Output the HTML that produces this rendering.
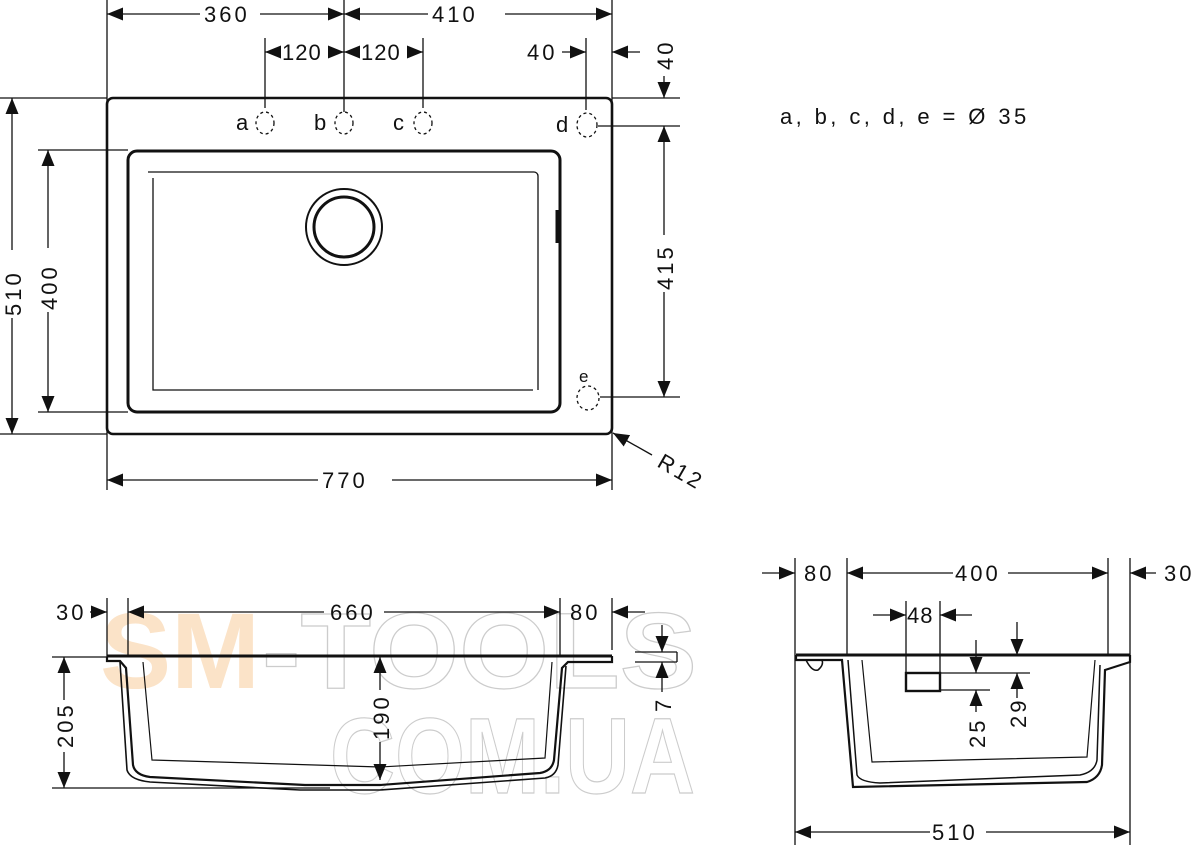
<!DOCTYPE html>
<html><head><meta charset="utf-8"><style>
html,body{margin:0;padding:0;background:#fff}
svg{display:block}
text{font-family:"Liberation Sans",sans-serif;font-size:22px;fill:#111;letter-spacing:3px}
</style></head><body>
<svg width="1200" height="847" viewBox="0 0 1200 847" xmlns="http://www.w3.org/2000/svg">
<defs>
<marker id="a" viewBox="0 0 16 13" refX="16" refY="6.5" markerWidth="16" markerHeight="13" markerUnits="userSpaceOnUse" orient="auto-start-reverse"><path d="M0,0 L16,6.5 L0,13z" fill="#111"/></marker>
</defs>
<text x="100" y="688" textLength="160" lengthAdjust="spacingAndGlyphs" style="font-size:108px;font-weight:bold;letter-spacing:0;fill:#fbe3c8">SM</text>
<text x="262" y="688" textLength="435" lengthAdjust="spacingAndGlyphs" style="font-size:108px;font-weight:bold;letter-spacing:0;fill:none;stroke:#ccc;stroke-width:1.2">-TOOLS</text>
<text x="330" y="793" textLength="365" lengthAdjust="spacingAndGlyphs" style="font-size:108px;font-weight:bold;letter-spacing:0;fill:none;stroke:#ccc;stroke-width:1.2">COM.UA</text>
<g stroke="#111" fill="none" stroke-width="1.3">
<line x1="107" y1="0" x2="107" y2="490"/>
<line x1="344" y1="0" x2="344" y2="112"/>
<line x1="612" y1="0" x2="612" y2="490"/>
<line x1="265" y1="38" x2="265" y2="108"/>
<line x1="423" y1="38" x2="423" y2="108"/>
<line x1="586" y1="38" x2="586" y2="110"/>
<line x1="0" y1="98" x2="107" y2="98"/>
<line x1="0" y1="434" x2="107" y2="434"/>
<line x1="38" y1="150" x2="128" y2="150"/>
<line x1="38" y1="412" x2="128" y2="412"/>
<line x1="612" y1="98" x2="680" y2="98"/>
<line x1="598" y1="126" x2="680" y2="126"/>
<line x1="600" y1="397" x2="680" y2="397"/>
<line x1="107" y1="14" x2="200" y2="14" marker-start="url(#a)"/><line x1="260" y1="14" x2="344" y2="14" marker-end="url(#a)"/>
<line x1="344" y1="14" x2="428" y2="14" marker-start="url(#a)"/><line x1="505" y1="14" x2="612" y2="14" marker-end="url(#a)"/>
<line x1="265" y1="52" x2="281" y2="52" marker-start="url(#a)"/>
<line x1="328" y1="52" x2="344" y2="52" marker-end="url(#a)"/>
<line x1="344" y1="52" x2="360" y2="52" marker-start="url(#a)"/>
<line x1="407" y1="52" x2="423" y2="52" marker-end="url(#a)"/>
<line x1="562" y1="52" x2="586" y2="52" marker-end="url(#a)"/>
<line x1="640" y1="52" x2="612" y2="52" marker-end="url(#a)"/>
<line x1="664" y1="76" x2="664" y2="98" marker-end="url(#a)"/>
<line x1="664" y1="126" x2="664" y2="235" marker-start="url(#a)"/><line x1="664" y1="292" x2="664" y2="397" marker-end="url(#a)"/>
<line x1="12" y1="98" x2="12" y2="250" marker-start="url(#a)"/><line x1="12" y1="318" x2="12" y2="434" marker-end="url(#a)"/>
<line x1="48" y1="150" x2="48" y2="248" marker-start="url(#a)"/><line x1="48" y1="312" x2="48" y2="412" marker-end="url(#a)"/>
<line x1="107" y1="480" x2="318" y2="480" marker-start="url(#a)"/><line x1="392" y1="480" x2="612" y2="480" marker-end="url(#a)"/>
<line x1="652" y1="455" x2="613" y2="433" marker-end="url(#a)"/>
</g>
<g fill="none" stroke="#111">
<rect x="107" y="98" width="505" height="336" rx="6" stroke-width="2.6"/>
<rect x="128" y="151" width="432" height="261" rx="9" stroke-width="3"/>
<path d="M148,172 H534 a4,4 0 0 1 4,4 V390 M533,390 H153 V178" stroke-width="1.3"/>
<line x1="557" y1="210" x2="557" y2="243" stroke-width="3"/>
<circle cx="344" cy="227" r="38" stroke-width="2"/>
<circle cx="344" cy="227" r="30" stroke-width="3"/>
<g stroke-width="1.3" stroke-dasharray="3,3">
<ellipse cx="265" cy="123" rx="9" ry="11"/><ellipse cx="344" cy="123" rx="9" ry="11"/>
<ellipse cx="423" cy="123" rx="9" ry="11"/><ellipse cx="587" cy="125" rx="10" ry="12"/>
<ellipse cx="588" cy="398" rx="11" ry="12"/>
</g>
</g>
<g>
<text x="204" y="22">360</text><text x="432" y="22">410</text>
<text x="282" y="60" style="letter-spacing:1px">120</text><text x="361" y="60" style="letter-spacing:1px">120</text>
<text x="527" y="60">40</text>
<text x="236" y="130">a</text><text x="314" y="130">b</text><text x="393" y="130">c</text><text x="556" y="132">d</text>
<text x="579" y="382" style="font-size:17px">e</text>
<text x="322" y="488">770</text>
<text x="780" y="124" style="letter-spacing:3.4px">a, b, c, d, e = Ø 35</text>
<text transform="translate(673,70) rotate(-90)">40</text>
<text transform="translate(673,290) rotate(-90)">415</text>
<text transform="translate(21,316) rotate(-90)">510</text>
<text transform="translate(57,310) rotate(-90)">400</text>
<text transform="translate(656,466) rotate(30)">R12</text>
</g>
<g stroke="#111" fill="none" stroke-width="1.3">
<line x1="107" y1="598" x2="107" y2="657"/><line x1="128" y1="598" x2="128" y2="657"/>
<line x1="560" y1="598" x2="560" y2="657"/><line x1="612" y1="598" x2="612" y2="650"/>
<line x1="90" y1="612" x2="107" y2="612" marker-end="url(#a)"/>
<line x1="128" y1="612" x2="324" y2="612" marker-start="url(#a)"/><line x1="384" y1="612" x2="560" y2="612" marker-end="url(#a)"/>
<line x1="645" y1="612" x2="612" y2="612" marker-end="url(#a)"/>
<line x1="52" y1="657" x2="107" y2="657"/>
<line x1="52" y1="788" x2="330" y2="788"/>
<line x1="64" y1="657" x2="64" y2="700" marker-start="url(#a)"/><line x1="64" y1="752" x2="64" y2="788" marker-end="url(#a)"/>
<line x1="380" y1="657" x2="380" y2="690" marker-start="url(#a)"/><line x1="380" y1="742" x2="380" y2="780" marker-end="url(#a)"/>
<line x1="662" y1="625" x2="662" y2="652" marker-end="url(#a)"/>
<line x1="662" y1="692" x2="662" y2="662" marker-end="url(#a)"/>
<line x1="635" y1="652" x2="677" y2="652"/><line x1="635" y1="662" x2="677" y2="662"/><line x1="677" y1="652" x2="677" y2="662"/>
</g>
<g fill="none" stroke="#111">
<line x1="107" y1="656" x2="612" y2="656" stroke-width="3"/>
<path d="M107,657 L107,661 L120,661 L126,668 L133,765 Q135,775 150,777 L305,785 L380,785 L540,773 Q552,771 554,760 L562,668 L568,662 L612,662 L612,656" stroke-width="2.2"/>
<path d="M120,662 L127,770 Q130,780 150,782 L300,790 L380,790 L545,778 Q556,776 558,765 L566,666" stroke-width="1.6"/>
<path d="M143,662 L152,760 L380,767 L545,758 L552,662" stroke-width="1.2"/>
</g>
<g>
<text x="56" y="620">30</text><text x="330" y="620">660</text><text x="570" y="620">80</text>
<text transform="translate(73,748) rotate(-90)">205</text>
<text transform="translate(389,740) rotate(-90)">190</text>
<text transform="translate(671,712) rotate(-90)">7</text>
</g>
<g stroke="#111" fill="none" stroke-width="1.3">
<line x1="795" y1="558" x2="795" y2="845"/><line x1="847" y1="558" x2="847" y2="655"/>
<line x1="1108" y1="558" x2="1108" y2="655"/><line x1="1130" y1="558" x2="1130" y2="845"/>
<line x1="762" y1="573" x2="795" y2="573" marker-end="url(#a)"/>
<line x1="847" y1="573" x2="953" y2="573" marker-start="url(#a)"/><line x1="1008" y1="573" x2="1108" y2="573" marker-end="url(#a)"/>
<line x1="1156" y1="573" x2="1130" y2="573" marker-end="url(#a)"/>
<line x1="795" y1="832" x2="930" y2="832" marker-start="url(#a)"/><line x1="986" y1="832" x2="1130" y2="832" marker-end="url(#a)"/>
<line x1="906" y1="601" x2="906" y2="673"/><line x1="940" y1="601" x2="940" y2="673"/>
<line x1="873" y1="615" x2="906" y2="615" marker-end="url(#a)"/>
<line x1="972" y1="615" x2="940" y2="615" marker-end="url(#a)"/>
<line x1="940" y1="673" x2="1030" y2="673"/><line x1="940" y1="690" x2="990" y2="690"/>
<line x1="976" y1="640" x2="976" y2="673" marker-end="url(#a)"/>
<line x1="976" y1="712" x2="976" y2="690" marker-end="url(#a)"/>
<line x1="1017" y1="622" x2="1017" y2="655" marker-end="url(#a)"/>
<line x1="1017" y1="698" x2="1017" y2="673" marker-end="url(#a)"/>
</g>
<g fill="none" stroke="#111">
<line x1="796" y1="655" x2="1130" y2="655" stroke-width="3"/>
<path d="M796,655 L796,660 L842,660 L853,787 L1087,782 Q1100,778 1102,765 L1105,670 L1130,662 L1130,655" stroke-width="2.2"/>
<path d="M848,660 L857,775 Q860,782 880,783 L1080,775 Q1095,772 1097,760 L1100,665" stroke-width="1.5"/>
<path d="M862,660 L872,762 L1087,757 L1095,660" stroke-width="1.2"/>
<path d="M806,660 Q812,672 818,670 Q824,665 822,660" stroke-width="1.5"/>
<rect x="906" y="673" width="34" height="18" stroke-width="2.4"/>
</g>
<g>
<text x="804" y="581">80</text><text x="955" y="581">400</text><text x="1164" y="581">30</text>
<text x="907" y="623" style="letter-spacing:1px">48</text>
<text x="932" y="840">510</text>
<text transform="translate(985,748) rotate(-90)">25</text>
<text transform="translate(1026,728) rotate(-90)">29</text>
</g>
</svg>
</body></html>
